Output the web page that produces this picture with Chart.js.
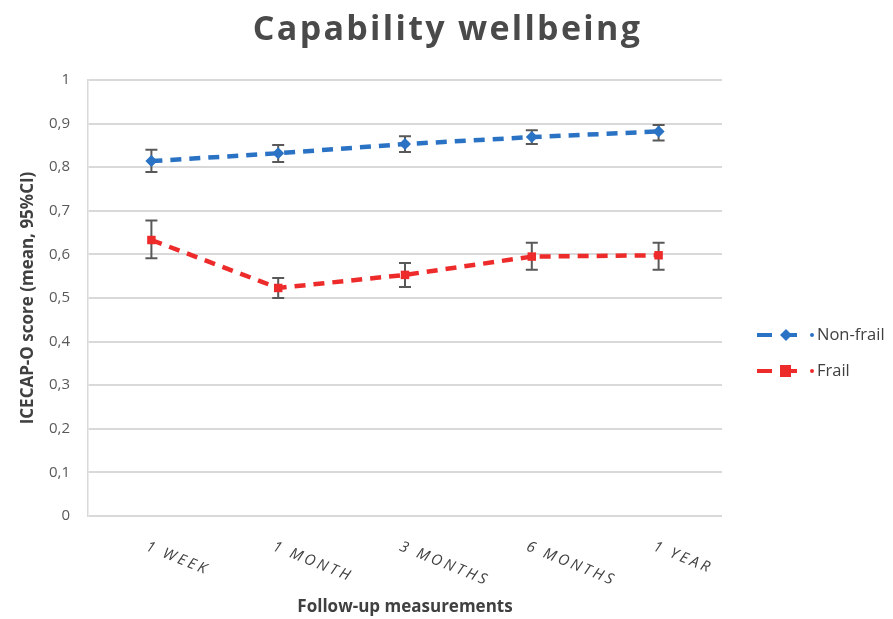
<!DOCTYPE html>
<html>
<head>
<meta charset="utf-8">
<script src="https://cdn.jsdelivr.net/npm/chart.js@4/dist/chart.umd.min.js"></script>
<style>
  html, body { margin: 0; padding: 0; background: #fff; }
  #wrap { width: 893px; height: 619px; position: relative; }
</style>
</head>
<body>
<div id="wrap"><canvas id="chart"></canvas></div>
<script>
const chartTitle = 'Capability wellbeing';
const categories = ['1 WEEK', '1 MONTH', '3 MONTHS', '6 MONTHS', '1 YEAR'];
const yTickLabels = ['0', '0,1', '0,2', '0,3', '0,4', '0,5', '0,6', '0,7', '0,8', '0,9', '1'];

const nonFrailMean = [0.814, 0.832, 0.853, 0.869, 0.882];
const nonFrailLow = [0.789, 0.812, 0.835, 0.853, 0.861];
const nonFrailHigh = [0.840, 0.851, 0.871, 0.885, 0.897];

const frailMean = [0.633, 0.523, 0.553, 0.595, 0.598];
const frailLow = [0.591, 0.500, 0.525, 0.565, 0.565];
const frailHigh = [0.678, 0.546, 0.580, 0.627, 0.627];

const BLUE = '#2a72c4';
const RED = '#ee2b2b';
const TEXT = '#404040';
const FONT = "'Open Sans', 'Liberation Sans', sans-serif";

// title centred on the whole canvas, not on the plot
const pageTitle = {
  id: 'pageTitle',
  afterDraw(chart) {
    const ctx = chart.ctx;
    ctx.save();
    ctx.fillStyle = '#4a4a4a';
    ctx.font = 'bold 34px ' + FONT;
    ctx.letterSpacing = '2.3px';
    ctx.textAlign = 'center';
    ctx.textBaseline = 'alphabetic';
    ctx.fillText(chartTitle, chart.width / 2 + 1, 40);
    ctx.restore();
  }
};

// error bars, drawn under the lines
const errorBars = {
  id: 'errorBars',
  beforeDatasetsDraw(chart) {
    const ctx = chart.ctx;
    const y = chart.scales.y;
    const sets = [[nonFrailLow, nonFrailHigh], [frailLow, frailHigh]];
    ctx.save();
    ctx.strokeStyle = '#595959';
    ctx.lineWidth = 2;
    sets.forEach(([lo, hi], di) => {
      const meta = chart.getDatasetMeta(di);
      meta.data.forEach((pt, i) => {
        const y0 = y.getPixelForValue(lo[i]);
        const y1 = y.getPixelForValue(hi[i]);
        ctx.beginPath();
        ctx.moveTo(pt.x, y0); ctx.lineTo(pt.x, y1);
        ctx.moveTo(pt.x - 6, y0); ctx.lineTo(pt.x + 6, y0);
        ctx.moveTo(pt.x - 6, y1); ctx.lineTo(pt.x + 6, y1);
        ctx.stroke();
      });
    });
    ctx.restore();
  }
};

// slanted category labels (downward to the right)
const slantLabels = {
  id: 'slantLabels',
  afterDraw(chart) {
    const ctx = chart.ctx;
    const x = chart.scales.x;
    const bottom = chart.chartArea.bottom;
    ctx.save();
    ctx.fillStyle = TEXT;
    ctx.font = 'italic 15px ' + FONT;
    ctx.letterSpacing = '3px';
    ctx.textAlign = 'left';
    ctx.textBaseline = 'top';
    categories.forEach((label, i) => {
      const px = x.getPixelForValue(i);
      ctx.save();
      ctx.translate(px - 2, bottom + 23);
      ctx.rotate(22 * Math.PI / 180);
      ctx.fillText(label, 0, 0);
      ctx.restore();
    });
    ctx.restore();
  }
};

// legend on the right: dash, marker, dot, name
const sideLegend = {
  id: 'sideLegend',
  afterDraw(chart) {
    const ctx = chart.ctx;
    const area = chart.chartArea;
    const items = [
      { name: 'Non-frail', color: BLUE, shape: 'diamond' },
      { name: 'Frail', color: RED, shape: 'square' }
    ];
    ctx.save();
    items.forEach((it, i) => {
      const cy = area.top + 255 + i * 36;
      const x0 = area.right + 35;
      ctx.strokeStyle = it.color;
      ctx.fillStyle = it.color;
      ctx.lineWidth = 4;
      ctx.beginPath();
      ctx.moveTo(x0, cy); ctx.lineTo(x0 + 15, cy);
      ctx.moveTo(x0 + 25, cy); ctx.lineTo(x0 + 40, cy);
      ctx.stroke();
      ctx.beginPath();
      if (it.shape === 'diamond') {
        const mx = x0 + 29;
        ctx.moveTo(mx, cy - 6); ctx.lineTo(mx + 6, cy); ctx.lineTo(mx, cy + 6); ctx.lineTo(mx - 6, cy);
        ctx.closePath();
        ctx.fill();
      } else {
        ctx.fillRect(x0 + 23, cy - 6, 11, 12);
      }
      ctx.beginPath();
      ctx.arc(x0 + 55, cy, 2, 0, Math.PI * 2);
      ctx.fill();
      ctx.fillStyle = TEXT;
      ctx.font = '16.5px ' + FONT;
      ctx.textAlign = 'left';
      ctx.textBaseline = 'middle';
      ctx.fillText(it.name, x0 + 60, cy);
    });
    ctx.restore();
  }
};

new Chart(document.getElementById('chart'), {
  type: 'line',
  data: {
    labels: categories,
    datasets: [
      {
        label: 'Non-frail',
        data: nonFrailMean,
        borderColor: BLUE,
        backgroundColor: BLUE,
        borderWidth: 4.5,
        borderDash: [11, 8],
        pointStyle: 'rectRot',
        pointRadius: 6,
        pointBorderWidth: 0,
        tension: 0
      },
      {
        label: 'Frail',
        data: frailMean,
        borderColor: RED,
        backgroundColor: RED,
        borderWidth: 4.5,
        borderDash: [11, 8],
        pointStyle: 'rect',
        pointRadius: 6,
        pointBorderWidth: 0,
        tension: 0
      }
    ]
  },
  options: {
    responsive: true,
    maintainAspectRatio: false,
    animation: false,
    layout: { padding: { left: 0, right: 171, top: 80, bottom: 0 } },
    plugins: {
      legend: { display: false },
      tooltip: { enabled: false },
      title: { display: false }
    },
    scales: {
      x: {
        offset: true,
        grid: { display: false },
        border: { display: false },
        ticks: { display: false },
        title: {
          display: true,
          text: 'Follow-up measurements',
          color: TEXT,
          font: { family: FONT, size: 17, weight: 'bold' },
          padding: { top: 0, bottom: 2 }
        },
        afterFit(scale) { scale.height = 103; }
      },
      y: {
        min: 0,
        max: 1,
        ticks: {
          stepSize: 0.1,
          color: '#595959',
          font: { family: FONT, size: 15 },
          padding: 18,
          callback: (v, i) => yTickLabels[i]
        },
        grid: { color: '#d9d9d9', lineWidth: 2, drawTicks: false },
        border: { display: true, color: '#d9d9d9', width: 1.5 },
        title: {
          display: true,
          text: 'ICECAP-O score (mean, 95%CI)',
          color: TEXT,
          font: { family: FONT, size: 17, weight: 'bold' },
          padding: { top: 18, bottom: 0 }
        },
        afterFit(scale) { scale.width = 88; }
      }
    }
  },
  plugins: [pageTitle, errorBars, slantLabels, sideLegend]
});
</script>
</body>
</html>
